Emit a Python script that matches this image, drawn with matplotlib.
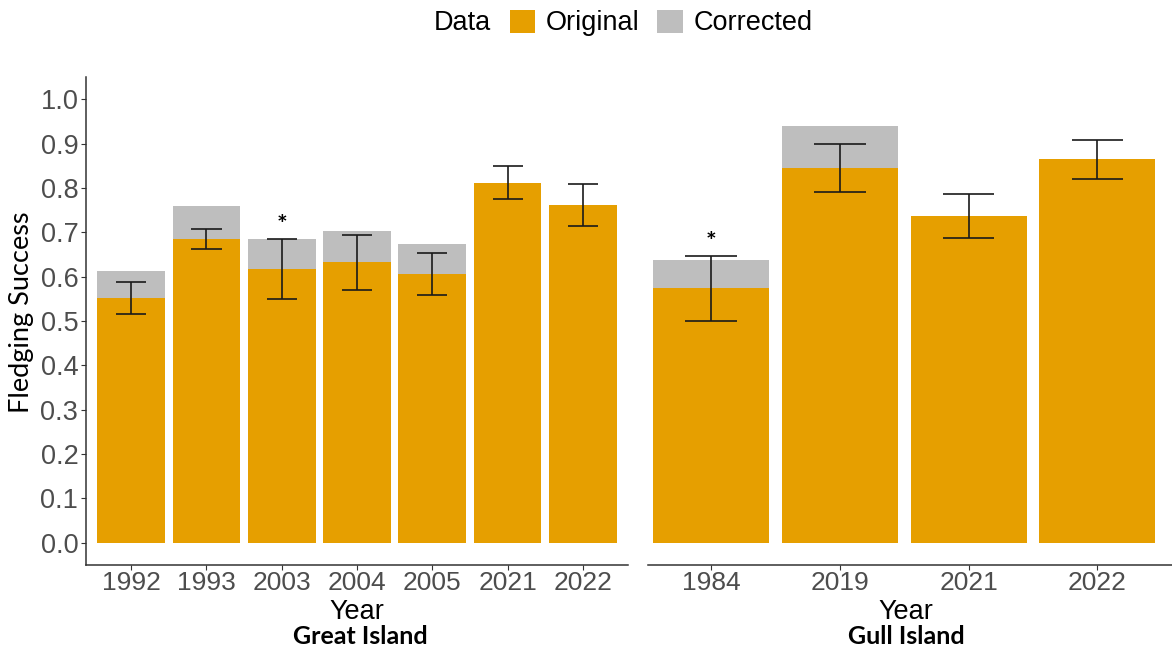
import numpy as np
import matplotlib
matplotlib.use("Agg")
import matplotlib.pyplot as plt
from matplotlib.patches import Patch

# Fledging success per year, original vs corrected estimates
great_years = ["1992", "1993", "2003", "2004", "2005", "2021", "2022"]
great_original = [0.552, 0.685, 0.617, 0.632, 0.606, 0.812, 0.761]
great_corrected = [0.613, 0.760, 0.685, 0.702, 0.674, np.nan, np.nan]
great_err_lo = [0.515, 0.662, 0.549, 0.571, 0.558, 0.775, 0.714]
great_err_hi = [0.589, 0.707, 0.685, 0.693, 0.654, 0.849, 0.809]
great_star = ["2003"]

gull_years = ["1984", "2019", "2021", "2022"]
gull_original = [0.575, 0.845, 0.737, 0.865]
gull_corrected = [0.638, 0.939, np.nan, np.nan]
gull_err_lo = [0.501, 0.791, 0.687, 0.821]
gull_err_hi = [0.647, 0.899, 0.786, 0.908]
gull_star = ["1984"]

ORANGE = "#E69F00"
GREY = "#BEBEBE"
TICK_COL = "#4D4D4D"

W, H = 1172, 650
fig = plt.figure(figsize=(W / 100, H / 100), dpi=100)


def px_axes(x0, x1, y_top, y_bot):
    return fig.add_axes([x0 / W, 1 - y_bot / H, (x1 - x0) / W, (y_bot - y_top) / H])


def draw_panel(ax, years, orig, corr, lo, hi, stars):
    x = np.arange(len(years))
    ax.bar(x, corr, width=0.9, color=GREY, zorder=1)
    ax.bar(x, orig, width=0.9, color=ORANGE, zorder=2)
    ax.vlines(x, lo, hi, color="#1a1a1a", lw=1.2, zorder=3)
    ax.hlines(lo, x - 0.2, x + 0.2, color="#1a1a1a", lw=1.2, zorder=3)
    ax.hlines(hi, x - 0.2, x + 0.2, color="#1a1a1a", lw=1.2, zorder=3)
    for i, yr in enumerate(years):
        if yr in stars:
            ax.text(x[i], hi[i] + 0.03, "*", ha="center", va="center",
                    fontsize=18, fontweight="bold", family="Lato")
    ax.set_xticks(x)
    ax.set_xticklabels(years, fontsize=19, color=TICK_COL, family="Liberation Sans")
    ax.set_ylim(-0.05, 1.05)
    for s in ["top", "right"]:
        ax.spines[s].set_visible(False)
    ax.spines["bottom"].set_color("#333333")
    ax.spines["bottom"].set_linewidth(1.1)
    ax.tick_params(axis="x", length=3.5, width=0.8, color="#333333", pad=1)


# Great Island
ax1 = px_axes(86, 628, 77, 565)
draw_panel(ax1, great_years, great_original, great_corrected,
           great_err_lo, great_err_hi, great_star)
ax1.set_xlim(-0.6, 6.6)
ax1.set_yticks(np.arange(0, 1.01, 0.1))
ax1.set_yticklabels([f"{v:.1f}" for v in np.arange(0, 1.01, 0.1)],
                    fontsize=19.5, color=TICK_COL, family="Liberation Sans")
ax1.spines["left"].set_color("#333333")
ax1.spines["left"].set_linewidth(1.1)
ax1.tick_params(axis="y", length=3.5, width=0.8, color="#333333", pad=2)

# Gull Island
ax2 = px_axes(648, 1172, 77, 565)
draw_panel(ax2, gull_years, gull_original, gull_corrected,
           gull_err_lo, gull_err_hi, gull_star)
ax2.set_xlim(-0.49, 3.58)
ax2.spines["left"].set_visible(False)
ax2.set_yticks([])

# axis titles and island names
fig.text(22 / W, 1 - 312 / H, "Fledging Success", rotation=90, ha="center",
         va="center", fontsize=19.5, family="Lato")
fig.text(357 / W, 1 - 619 / H, "Year", ha="center", va="baseline",
         fontsize=19.5, family="Liberation Sans")
fig.text(906 / W, 1 - 619 / H, "Year", ha="center", va="baseline",
         fontsize=19.5, family="Liberation Sans")
fig.text(360 / W, 1 - 644 / H, "Great Island", ha="center", va="baseline",
         fontsize=18, fontweight="bold", family="Lato")
fig.text(906 / W, 1 - 644 / H, "Gull Island", ha="center", va="baseline",
         fontsize=18, fontweight="bold", family="Lato")

# legend across the top
fig.text(462 / W, 1 - 23 / H, "Data", ha="center", va="center",
         fontsize=19.5, family="Liberation Sans")
handles = [Patch(facecolor=ORANGE, label="Original"),
           Patch(facecolor=GREY, label="Corrected")]
fig.legend(handles=handles, loc="center", bbox_to_anchor=(661 / W, 1 - 23 / H),
           ncol=2, frameon=False, prop={"family": "Liberation Sans", "size": 19.5},
           handlelength=0.95, handleheight=0.95, handletextpad=0.38,
           columnspacing=0.65, borderpad=0, borderaxespad=0)

fig.savefig("out.png", dpi=100)
